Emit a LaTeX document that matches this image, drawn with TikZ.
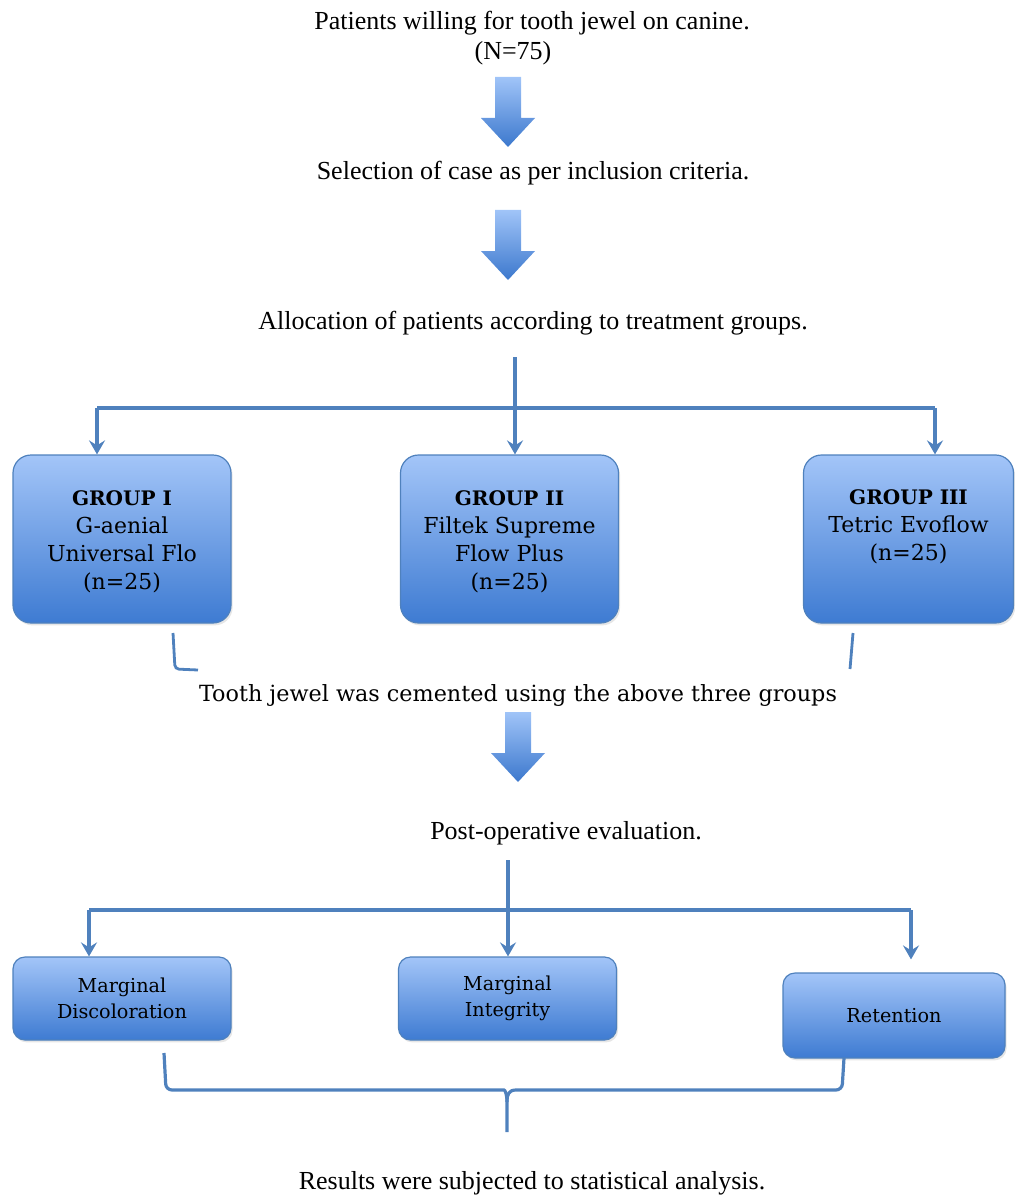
\documentclass[tikz,border=0pt]{standalone}
\usepackage{fontspec}
\setmainfont{Liberation Serif}
\newfontfamily\boxfont{DejaVu Serif}
\usetikzlibrary{arrows.meta,positioning,shadows}
\definecolor{lineblue}{RGB}{79,129,189}
\definecolor{boxtop}{RGB}{163,197,248}
\definecolor{boxbot}{RGB}{62,123,210}
\definecolor{arrowtop}{RGB}{160,196,248}
\definecolor{arrowbot}{RGB}{60,120,205}
\newcommand{\grouphead}[1]{{\fontsize{10}{14}\selectfont\textbf{#1}}}
\tikzset{
	step text/.style={
		% plain serif lines between the boxes
		font=\fontsize{13}{15}\selectfont,inner sep=0pt,
	}}
\tikzset{
	groupbox/.style={
		% The shape:
		rectangle,rounded corners=9pt,
		% The size:
		minimum width=109pt,minimum height=84pt,
		% The border:
		draw=lineblue,line width=0.6pt,
		% The filling:
		top color=boxtop,bottom color=boxbot,
		drop shadow={opacity=0.2,shadow xshift=0.8pt,shadow yshift=-1.2pt},
	},
	grouptext/.style={
		align=center,inner sep=0pt,
		font=\boxfont\fontsize{11}{14}\selectfont,
	},
	evalbox/.style={
		groupbox,rounded corners=6pt,
		minimum height=41.5pt,align=center,
		font=\boxfont\fontsize{9.6}{13}\selectfont,
	},
	link/.style={draw=lineblue,line width=2pt},
	tip/.style={-{Stealth[length=7pt,width=8pt,inset=2.5pt]}},
	brace/.style={draw=lineblue,line width=1.6pt},
	blockarrow/.pic={
		\shade[top color=arrowtop,bottom color=arrowbot]
			(-13,0) -- (13,0) -- (13,41) -- (27,41) -- (0,70) -- (-27,41) -- (-13,41) -- cycle;
	},
}

\begin{document}
\begin{tikzpicture}[x=0.5pt,y=-0.5pt]
	\useasboundingbox (0,0) rectangle (1014,1198);

	% texts down the middle
	\node[step text] (willing) at (532,23) {Patients willing for tooth jewel on canine.};
	\node[step text] (total) at (513,53) {(N=75)};
	\node[step text] (select) at (533,173) {Selection of case as per inclusion criteria.};
	\node[step text] (alloc) at (533,323) {Allocation of patients according to treatment groups.};
	\node[step text,font=\boxfont\fontsize{11.15}{14}\selectfont] (cement) at (518,695) {Tooth jewel was cemented using the above three groups};
	\node[step text] (postop) at (566,833) {Post-operative evaluation.};
	\node[step text] (results) at (532,1183) {Results were subjected to statistical analysis.};

	\pic at (508,77) {blockarrow};
	\pic at (508,210) {blockarrow};
	\pic at (518,712) {blockarrow};

	% the three groups
	\node[groupbox] (g1) at (122,539) {};
	\node[groupbox] (g2) at (509.5,539) {};
	\node[groupbox,minimum width=105pt] (g3) at (908.5,539) {};
	\node[grouptext] (g1txt) at (122,542) {\grouphead{GROUP I}\\G-aenial\\Universal Flo\\(n=25)};
	\node[grouptext] (g2txt) at (509.5,542) {\grouphead{GROUP II}\\Filtek Supreme\\Flow Plus\\(n=25)};
	\node[grouptext] (g3txt) at (908.5,527) {\grouphead{GROUP III}\\Tetric Evoflow\\(n=25)};

	\coordinate (split1) at (515,357);
	\coordinate (l1) at (97,408);
	\coordinate (r1) at (935,408);
	\draw[link] (l1) -- (r1);
	\draw[link,tip] (split1) -- (split1 |- g2.north);
	\draw[link,tip] (l1) -- (l1 |- g1.north);
	\draw[link,tip] (r1) -- (r1 |- g3.north);

	% ends of the bracket under the groups
	\draw[brace,line width=1.4pt,rounded corners=2pt] (173,633) -- (175,669) -- (198,670);
	\draw[brace,line width=1.4pt] (853,633) -- (850,669);

	% evaluation
	\node[evalbox] (discol) at (122,998.5) {Marginal\\Discoloration};
	\node[evalbox] (integ) at (507.5,998.5) {Marginal\\Integrity};
	\node[evalbox,minimum width=111pt,minimum height=42.5pt] (retain) at (894,1015.5) {Retention};

	\coordinate (split2) at (508,860);
	\coordinate (l2) at (89,910);
	\coordinate (r2) at (911,910);
	\draw[link] (l2) -- (r2);
	\draw[link,tip] (split2) -- (split2 |- integ.north);
	\draw[link,tip] (l2) -- (l2 |- discol.north);
	\draw[link,tip,shorten >=6.5pt] (r2) -- (r2 |- retain.north);

	% brace to the results
	\draw[brace] (164,1053) [rounded corners=3pt] -- (166,1090) -- (498,1090) [sharp corners]
		.. controls (505,1090) and (507,1094) .. (507,1102) -- (507,1132);
	\draw[brace] (507,1102) .. controls (507,1094) and (509,1090) .. (516,1090)
		[rounded corners=3pt] -- (842,1090) -- (844,1058);
\end{tikzpicture}
\end{document}
